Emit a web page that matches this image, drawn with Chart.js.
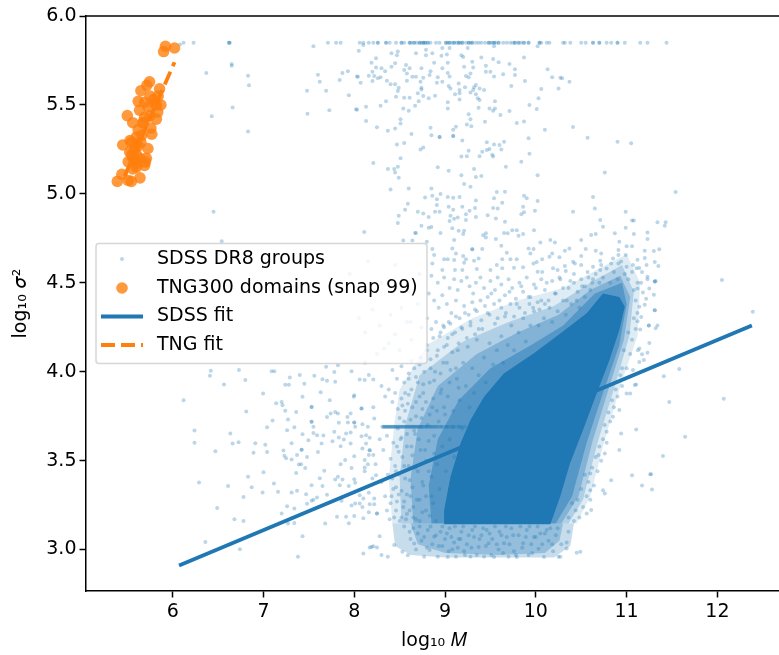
<!DOCTYPE html>
<html>
<head>
<meta charset="utf-8">
<title>SDSS vs TNG300</title>
<script src="https://cdn.jsdelivr.net/npm/chart.js@4"></script>
<style>
  html, body { margin: 0; padding: 0; background: #fff; overflow: hidden; width: 779px; height: 655px; }
  canvas { display: block; }
</style>
</head>
<body>
<canvas id="myChart" width="788" height="655"></canvas>
<script>
const xTicks = [6, 7, 8, 9, 10, 11, 12]
const yTicks = [3.0, 3.5, 4.0, 4.5, 5.0, 5.5, 6.0]

// log M of the groups piled up on the top row, log sigma^2 = 5.85
const topRowSigma = 5.85
const topRowMass = [6.12, 6.23, 6.62, 6.62, 6.63, 7.71, 7.80, 7.85, 8.06, 8.10, 8.16, 8.21, 8.26, 8.26, 8.35, 8.35, 8.39, 8.46, 8.52, 8.52, 8.55, 8.61, 8.61, 8.63, 8.66, 8.66, 8.69, 8.72, 8.72, 8.74, 8.76, 8.76, 8.78, 8.78, 8.81, 8.81, 8.84, 8.90, 8.94, 9.01, 9.01, 9.03, 9.05, 9.05, 9.08, 9.10, 9.10, 9.13, 9.15, 9.15, 9.17, 9.19, 9.19, 9.23, 9.26, 9.26, 9.28, 9.30, 9.30, 9.34, 9.37, 9.40, 9.44, 9.48, 9.48, 9.50, 9.52, 9.54, 9.54, 9.56, 9.59, 9.59, 9.64, 9.68, 9.72, 9.75, 9.77, 9.77, 9.81, 9.81, 9.84, 9.87, 9.87, 9.92, 9.92, 10.04, 10.04, 10.06, 10.12, 10.15, 10.30, 10.32, 10.38, 10.50, 10.55, 10.63, 10.63, 10.70, 10.70, 10.78, 10.83, 10.90, 10.90, 10.98, 11.15, 11.23, 11.44]

// the short streak at log sigma^2 = 3.69
const streakSigma = 3.69
const streakMass = [8.31, 8.32, 8.33, 8.34, 8.35, 8.36, 8.37, 8.38, 8.39, 8.40, 8.41, 8.42, 8.43, 8.44, 8.45, 8.46, 8.47, 8.48, 8.49, 8.50, 8.51, 8.52, 8.53, 8.54, 8.55, 8.56, 8.57, 8.58, 8.59, 8.60, 8.61, 8.62, 8.63, 8.64, 8.65, 8.66, 8.67, 8.68, 8.69, 8.70, 8.71, 8.72, 8.73, 8.74, 8.75, 8.76, 8.78, 8.79, 8.80, 8.81, 8.83, 8.84, 8.85, 8.87, 8.88, 8.90, 8.91, 8.93, 8.95, 8.96, 8.98, 9.01, 9.02, 9.04, 9.07, 9.09, 9.10, 9.14, 9.16, 9.18, 9.22]

const sparsePoints = [
  [6.08,5.84],[6.65,5.73],[6.65,5.72],[6.37,5.68],[6.83,5.664],[6.84,5.61],[6.66,5.486],[6.43,5.436],[6.83,5.35],[6.45,4.90],[6.54,4.734],
  [7.55,5.83],[7.60,5.67],[7.62,5.63],[7.48,5.58],[7.69,5.58],[7.87,5.68],[7.93,5.69],[7.84,5.64],[7.94,5.555],[7.485,5.45],[7.725,5.47],[8.03,5.473],[8.03,5.66],
  [8.05,5.805],[8.10,5.837],[8.41,5.79],[8.47,5.78],[8.48,5.80],[8.68,5.79],[8.79,5.81],[8.79,5.78],[8.86,5.79],[8.97,5.82],[9.05,5.82],[9.25,5.82],[9.54,5.83],[8.96,5.776],[9.02,5.784],[9.18,5.78],[9.20,5.77],[9.40,5.767],[9.53,5.758],[9.59,5.74],[9.87,5.767],[9.71,5.73],[9.77,5.70],[10.13,5.70],[10.02,5.83],
  [8.24,5.762],[8.19,5.737],[8.24,5.71],[8.30,5.706],[8.34,5.69],[8.41,5.715],[8.45,5.734],[8.57,5.725],[8.61,5.706],[8.55,5.696],[8.58,5.677],[8.74,5.706],[8.84,5.69],[8.88,5.737],[8.97,5.706],[9.03,5.737],[9.21,5.715],[9.30,5.743],[9.31,5.71],[9.45,5.72],[9.45,5.687],[9.50,5.687],[9.28,5.677],[9.03,5.68],[9.05,5.66],[9.23,5.663],[9.26,5.655],[9.54,5.66],[9.64,5.672],[9.77,5.668],
  [8.04,5.659],[8.16,5.664],[8.20,5.687],[8.22,5.662],[8.26,5.65],[8.29,5.655],[8.07,5.625],[8.20,5.634],[8.36,5.636],[8.40,5.616],[8.45,5.616],[8.49,5.597],[8.48,5.578],[8.58,5.636],[8.64,5.659],[8.68,5.659],[8.76,5.653],[8.73,5.63],[8.74,5.597],[8.74,5.587],[8.83,5.668],[8.92,5.655],[8.91,5.625],[8.97,5.63],[9.04,5.606],[9.06,5.593],[9.11,5.56],[9.15,5.62],[9.16,5.584],[9.16,5.565],[9.22,5.60],[9.32,5.60],[9.34,5.612],[9.28,5.57],[9.31,5.584],[9.38,5.593],[9.43,5.584],[9.34,5.56],[9.73,5.606],[9.88,5.634],[10.06,5.59],[10.18,5.655],[10.27,5.653],[10.29,5.65],[10.37,5.63],[10.25,5.593],[10.03,5.537],[9.93,5.50],[10.01,5.477],
  [8.02,5.475],[8.13,5.49],[8.29,5.495],[8.35,5.52],[8.46,5.546],[8.55,5.54],[8.61,5.54],[8.76,5.55],[8.82,5.537],[8.89,5.552],[8.70,5.565],[8.71,5.52],[8.67,5.495],[8.60,5.467],[8.54,5.48],[8.13,5.41],[8.25,5.374],[8.37,5.355],[8.45,5.368],[8.51,5.42],[8.51,5.396],[8.63,5.336],[8.47,5.278],[8.55,5.286],[8.73,5.25],[8.76,5.26],[8.21,5.173],[8.37,5.14],[8.44,5.14],[8.48,5.152],[8.45,5.12],[8.49,5.09],[8.51,5.20],[8.40,5.025],[8.60,5.03],
  [8.84,5.372],[8.85,5.33],[8.94,5.32],[8.94,5.32],[9.09,5.36],[9.12,5.377],[9.09,5.325],[9.09,5.325],[9.19,5.30],[9.03,5.515],[9.03,5.48],[9.16,5.53],[9.36,5.537],[9.38,5.527],[9.37,5.484],[9.49,5.48],[9.55,5.52],[9.55,5.48],[9.53,5.467],[9.61,5.443],[9.71,5.466],[9.26,5.447],[9.28,5.42],[9.24,5.39],[9.29,5.38],[9.44,5.406],[9.79,5.398],[9.87,5.407],[10.10,5.36],[10.41,5.376],[10.57,5.316],[10.90,5.293],[11.05,5.284],[9.92,5.312],[9.93,5.226],[9.65,5.293],[9.60,5.275],[9.54,5.278],[9.46,5.29],[9.49,5.252],[9.46,5.246],[9.41,5.237],[9.62,5.25],[9.26,5.243],[9.18,5.21],[9.24,5.212],[9.38,5.212],[9.52,5.22],[9.53,5.21],[9.84,5.18],[9.67,5.152],[8.92,5.15],[9.04,5.13],[9.18,5.105],[9.32,5.14],[9.34,5.095],[9.40,5.10],[10.02,5.105],[10.76,5.12],[9.21,5.055],[9.28,5.04],[8.85,5.03],[9.57,5.01],[9.66,5.012],[9.87,4.99],[9.90,4.975],[11.54,5.01],[10.63,4.982],[10.02,4.96],[9.34,4.963],[9.54,4.975],[8.78,4.98],[8.86,4.99],[8.91,4.97],[8.95,4.999],[9.03,4.982],[9.09,4.978],[9.16,4.982],
  [8.59,4.945],[8.56,4.91],[8.70,4.90],[8.76,4.89],[8.82,4.87],[8.91,4.937],[8.89,4.90],[8.94,4.90],[9.04,4.927],[9.09,4.91],[9.19,4.927],[9.27,4.905],[9.23,4.886],[9.33,4.92],[9.34,4.87],[9.47,4.88],[9.53,4.92],[9.58,4.917],[9.63,4.95],[9.86,4.927],[9.87,4.897],[9.84,4.886],[9.99,4.905],[10.41,4.90],[10.65,4.917],[10.99,4.90],[8.49,4.877],[8.48,4.836],[8.11,4.785],[9.06,4.877],[9.10,4.86],[9.14,4.867],[9.05,4.847],[9.23,4.853],[9.56,4.862],[9.66,4.843],[10.71,4.853],[11.06,4.85],[11.08,4.85],[11.34,4.84],[11.43,4.84],[11.42,4.82],[10.74,4.815],[10.99,4.81],[8.74,4.82],[8.82,4.81],[8.85,4.813],[9.08,4.806],[8.67,4.78],[8.68,4.78],[8.95,4.78],[9.15,4.793],[9.21,4.793],[9.20,4.774],[9.42,4.767],[9.45,4.778],[9.45,4.755],[9.56,4.746],[9.65,4.78],[9.69,4.778],[9.74,4.796],[9.79,4.796],[9.81,4.765],[9.86,4.774],[9.98,4.796],[10.61,4.768],[10.66,4.774],[10.87,4.778],[11.08,4.774],[11.23,4.783],[11.23,4.746],[10.50,4.74],[10.21,4.727],[10.16,4.74],[10.92,4.73],[10.05,4.727],[9.10,4.74],[8.80,4.73],[8.64,4.738],[8.54,4.738],
  [6.12,3.84],[6.24,3.67],[6.24,3.60],[6.29,3.377],[6.36,3.043],[6.41,3.977],[6.42,4.005],[6.565,3.928],[6.47,3.553],[6.49,3.234],[6.68,3.17],[6.78,3.161],[6.74,3.002],[6.61,3.358],[6.635,3.653],[6.66,3.596],[6.725,3.604],[6.73,4.009],[6.80,3.954],[6.81,3.776],[6.83,3.409],[6.87,3.351],[6.78,3.296],[6.91,3.598],[6.89,3.544],[6.996,3.877],[7.02,3.59],[7.04,3.548],[7.04,3.688],[7.10,3.726],[7.0,3.435],[6.99,3.321],[7.115,3.371],[7.16,3.325],[7.09,4.003],[7.12,4.003],[7.14,3.823],[7.20,3.83],[7.21,3.812],[7.24,3.78],[7.36,3.773],[7.27,3.731],[7.26,3.671],[7.34,3.688],[7.31,3.598],[7.22,3.557],[7.23,3.527],[7.25,3.514],[7.31,3.506],[7.37,3.531],[7.42,3.561],[7.42,3.561],[7.48,3.521],[7.39,3.478],[7.415,3.48],[7.46,3.459],[7.36,3.431],[7.31,3.321],[7.37,3.33],[7.20,3.203],[7.26,3.244],[7.34,3.231],[7.48,3.257],[7.47,3.311],[7.53,3.362],[7.53,3.274],[7.59,3.293],[7.55,3.28],[7.27,3.146],[7.34,3.15],[7.43,3.075],[7.38,2.959],[7.24,3.926],[7.28,3.926],[7.29,3.968],[7.40,3.981],[7.45,3.932],[7.56,3.977],[7.65,3.958],[7.70,3.949],[7.79,3.943],[7.78,3.998],[7.69,4.028],[7.82,4.037],[7.97,4.003],[8.06,3.956],[8.115,3.953],[8.16,3.981],[8.21,3.956],[7.43,3.859],[7.53,3.801],[7.53,3.801],[7.63,3.885],[7.73,3.84],[7.53,3.718],[7.53,3.718],[7.43,3.649],[7.495,3.615],[7.55,3.69],[7.55,3.656],[7.59,3.643],[7.66,3.641],[7.64,3.596],[7.60,3.548],[7.70,3.746],[7.74,3.765],[7.79,3.773],[7.82,3.765],[7.83,3.713],[7.78,3.662],[7.76,3.609],[7.83,3.63],[7.885,3.619],[7.85,3.581],[7.91,3.653],[7.96,3.658],[7.96,3.596],[7.93,3.714],[8.0,3.714],[8.0,3.714],[7.925,3.746],[7.96,3.765],[8.01,3.69],[8.0,3.868],[8.08,3.793],[8.08,3.793],[7.995,3.859],[8.09,3.705],[8.08,3.637],[8.13,3.643],[8.15,3.69],[8.17,3.628],[8.13,3.596],[8.22,3.737],[8.21,3.80],[8.09,3.568],[8.17,3.559],[8.17,3.559],[8.16,3.531],[8.21,3.531],[8.115,3.503],[8.235,3.48],[8.15,3.48],[8.0,3.525],[7.90,3.503],[7.85,3.48],[7.97,3.459],[8.115,3.461],[8.115,3.441],[7.67,3.443],[7.62,3.401],[7.65,3.358],[7.79,3.394],[7.82,3.409],[7.87,3.394],[7.84,3.362],[7.94,3.358],[8.0,3.396],[8.01,3.375],[8.20,3.40],[8.24,3.418],[7.70,3.308],[7.86,3.274],[7.68,3.146],[7.81,3.184],[7.91,3.184],[7.94,3.148],[8.0,3.188],[8.10,3.176],[8.16,3.21],[8.25,3.203],[8.25,3.203],[7.97,3.248],[8.01,3.259],[8.06,3.259],[8.09,3.24],[8.17,3.255],[8.22,3.255],[8.16,3.32],[8.22,3.287],[8.06,3.306],[8.10,3.287],[8.10,2.978],[8.17,3.011],[8.21,3.019],[8.25,3.011],
  [11.20,4.68],[11.31,4.617],[11.35,4.594],[11.22,4.60],[11.2,4.64],[11.12,4.63],[11.14,4.583],[11.17,4.56],[11.23,4.52],[11.31,4.507],[11.31,4.507],[12.05,4.516],[11.12,4.50],[11.16,4.50],[11.25,4.468],[11.30,4.433],[11.12,4.468],[11.18,4.445],[11.215,4.41],[11.31,4.346],[11.31,4.346],[11.2,4.376],[11.14,4.365],[11.16,4.307],[11.12,4.284],[11.245,4.26],[11.245,4.26],[11.34,4.26],[11.32,4.245],[11.15,4.238],[12.39,4.337],[11.25,4.162],[11.14,4.13],[11.23,4.107],[11.17,4.098],[11.14,4.054],[11.19,4.066],[11.58,4.015],[11.41,3.974],[11.106,3.928],[11.47,3.83],[12.07,3.848],[11.106,3.675],[11.645,3.634],[11.40,3.526],[11.26,3.423],[11.17,3.36],[11.28,3.338],
  [10.92,3.56],[11.27,3.424],[11.06,3.418],[10.83,3.39],[10.74,3.334],[10.76,3.315],[10.61,3.222],[10.49,2.987],[10.45,2.982],[10.34,3.04],[10.34,3.006],[10.27,2.96],[11.09,3.925],[11.04,3.878],[10.92,3.784],[10.94,3.653],[10.85,3.747],[10.78,3.662],[10.76,3.54],[10.69,3.531],[10.60,3.428],[10.60,3.334],[10.56,3.203],[11.0,3.878],[11.125,4.12],[11.07,4.01],[10.98,3.96],[10.95,4.02],[11.03,3.97]
]

// groups in the cloud around the dense core, less exact than the ones above
const cloudPoints = [
  [8.86,4.69],[8.88,4.656],[9.30,4.688],[9.30,4.688],[9.08,4.693],[9.41,4.69],[9.62,4.708],[9.68,4.669],[9.92,4.693],[9.975,4.69],[9.94,4.665],[10.18,4.665],[10.15,4.647],[10.32,4.68],[10.37,4.693],[10.55,4.69],[10.66,4.68],[10.72,4.665],[10.91,4.684],[11.0,4.706],[11.06,4.706],[11.3,4.678],[11.36,4.688],[8.99,4.632],[9.03,4.632],[9.10,4.628],[9.12,4.665],[9.20,4.65],[9.23,4.632],[9.21,4.613],[9.32,4.624],[9.37,4.637],[9.63,4.632],[9.72,4.632],[9.79,4.632],[9.975,4.609],[10.01,4.617],[10.07,4.632],[10.26,4.643],[10.41,4.618],[10.50,4.65],[10.71,4.624],[10.85,4.637],[10.91,4.656],[10.99,4.656],[11.07,4.6],[8.86,4.609],[8.97,4.572],[9.11,4.572],[9.19,4.572],[9.35,4.577],[9.50,4.572],[9.57,4.60],[9.63,4.581],[9.76,4.585],[9.86,4.587],[10.02,4.562],[10.07,4.56],[10.19,4.581],[10.24,4.572],[10.32,4.594],[10.33,4.566],[10.43,4.609],[10.50,4.60],[10.63,4.59],[10.72,4.60],[10.71,4.572],[10.83,4.609],[10.91,4.609],[11.0,4.59],[11.11,4.581],[11.23,4.534],[11.32,4.51],
  [8.85,4.54],[8.92,4.50],[8.99,4.53],[9.05,4.47],[9.10,4.52],[9.14,4.46],[9.18,4.51],[9.24,4.53],[9.27,4.48],[9.31,4.44],[9.34,4.50],[9.39,4.53],[9.43,4.47],[9.47,4.42],[9.50,4.51],[9.55,4.46],[9.58,4.53],[9.62,4.49],[9.66,4.43],[9.70,4.52],[9.74,4.47],[9.78,4.41],[9.82,4.50],[9.86,4.45],[9.90,4.53],[9.94,4.42],[9.98,4.49],[10.02,4.39],[10.06,4.52],[10.10,4.46],[10.14,4.40],[10.18,4.51],[10.22,4.44],[10.26,4.53],[10.30,4.47],[10.34,4.40],[10.38,4.51],[10.42,4.55],[10.46,4.45],[10.50,4.52],[10.54,4.48],[10.58,4.53],[10.62,4.50],
  [8.82,4.44],[8.88,4.40],[8.93,4.36],[8.97,4.43],[9.02,4.38],[9.07,4.33],[9.12,4.40],[9.16,4.30],[9.21,4.37],[9.26,4.32],[9.30,4.39],[9.35,4.34],[9.40,4.29],[9.44,4.37],[9.49,4.32],[9.54,4.38],[9.58,4.30],[9.62,4.36],[9.67,4.33],[9.72,4.38],[9.76,4.31],[9.82,4.36],[9.88,4.33],[9.93,4.38],[9.98,4.34],[10.04,4.35],[10.10,4.38],
  [8.80,4.30],[8.85,4.24],[8.90,4.28],[8.94,4.20],[8.98,4.26],[9.03,4.19],[9.06,4.27],[9.11,4.22],[9.15,4.16],[9.19,4.24],[9.24,4.19],[9.28,4.26],[9.33,4.21],[9.37,4.24],
  [8.42,4.01],[8.47,3.96],[8.52,4.03],[8.55,3.94],[8.60,3.99],[8.63,4.06],[8.68,3.97],[8.72,4.04],[8.76,3.93],[8.80,4.12],[8.84,4.02],[8.88,3.95],[8.91,4.09],[8.95,3.99],[8.99,4.14],[9.02,4.05],[9.05,3.94],[9.08,4.11],[9.12,4.02],[9.15,3.91],
  [8.30,3.92],[8.34,3.86],[8.38,3.90],[8.42,3.83],[8.45,3.88],[8.48,3.79],[8.52,3.85],[8.56,3.78],[8.60,3.87],[8.64,3.80],[8.68,3.75],[8.72,3.86],[8.75,3.79],[8.79,3.83],[8.83,3.76],[8.87,3.85],[8.91,3.78],[8.95,3.88],[8.99,3.80],
  [8.28,3.62],[8.32,3.56],[8.36,3.64],[8.40,3.51],[8.43,3.60],[8.46,3.44],[8.49,3.55],[8.52,3.63],[8.55,3.47],[8.58,3.58],[8.61,3.39],[8.64,3.53],[8.67,3.65],[8.70,3.44],[8.73,3.56],[8.76,3.36],[8.79,3.50],[8.82,3.61],[8.85,3.41],[8.88,3.54],
  [8.30,3.38],[8.34,3.30],[8.37,3.42],[8.40,3.26],[8.43,3.34],[8.46,3.22],[8.49,3.31],[8.52,3.18],[8.55,3.27],[8.58,3.20],[8.62,3.30],[8.65,3.24],[8.68,3.17],[8.72,3.28],[8.75,3.21],[8.79,3.30],[8.83,3.19],[8.87,3.26],
  [8.19,3.015],[8.28,3.075],[8.30,2.97],[8.37,2.96],[8.44,3.025],[8.53,2.987],[8.59,2.968],[8.66,3.034],[8.77,2.96],[8.83,2.997],[8.88,3.072],[8.92,2.96],[8.97,3.02],[9.03,2.958],[9.08,3.0],[9.12,2.96],[9.15,3.06],[9.21,2.99],[9.28,2.96],[9.32,3.07],[9.37,3.015],[9.43,2.96],[9.48,3.035],[9.54,2.958],[9.59,3.0],[9.65,3.035],[9.70,2.96],[9.76,2.99],[9.79,2.958],[9.86,3.035],[9.92,2.97],[9.98,3.07],[10.03,3.005],[10.09,2.958],[10.14,3.05],[10.19,2.99],[10.25,2.96],
  [8.61,3.10],[8.70,3.09],[8.74,3.05],[8.81,3.11],[8.86,3.03],[8.95,3.10],[9.0,3.06],[9.05,3.12],[9.10,3.04],[9.18,3.10],[9.24,3.03],[9.30,3.11],[9.40,3.08],[9.46,3.11],[9.52,3.06],[9.60,3.10],[9.68,3.07],[9.73,3.12],[9.81,3.08],[9.90,3.11],[9.95,3.03],[10.05,3.09],[10.12,3.11],[10.22,3.08],[10.28,3.03],[10.36,3.10],
  [8.05,4.30],[8.12,4.22],[8.20,4.35],[8.28,4.26],[8.33,4.13],[8.40,4.32],[8.45,4.21],[8.52,4.36],[8.58,4.28],[8.63,4.18],[8.70,4.38],[8.74,4.25],[8.12,4.05],[8.25,4.10],[8.38,4.16],[8.50,4.12],[8.62,4.28],[7.80,4.45],[7.95,4.55],[8.15,4.62],[8.30,4.50],[8.45,4.60],[8.60,4.45],[8.72,4.55]
]

// second pass over the cloud, mostly along the edges of the outlines below
const edgePoints = [
  [8.36,3.22],[8.39,3.17],[8.41,3.30],[8.42,3.40],[8.44,3.18],[8.45,3.47],[8.46,3.35],[8.47,3.27],[8.47,3.58],[8.48,3.68],[8.49,3.42],[8.50,3.74],[8.50,3.16],[8.51,3.62],[8.52,3.33],[8.53,3.81],[8.53,3.52],[8.54,3.24],[8.55,3.72],[8.56,3.88],[8.56,3.40],[8.57,3.17],[8.58,3.65],[8.58,3.31],[8.59,3.82],[8.60,3.47],[8.60,3.96],[8.61,3.22],[8.62,3.73],[8.63,3.58],[8.63,3.90],[8.64,3.35],[8.65,3.18],[8.66,3.67],[8.66,4.02],[8.67,3.46],[8.68,3.83],[8.69,3.28],[8.70,3.94],[8.71,3.62],[8.72,3.16],[8.73,4.08],[8.74,3.74],[8.75,3.38],[8.76,3.88],[8.77,4.00],[8.78,3.56],[8.79,3.22],[8.80,4.15],[8.81,3.70],[8.82,3.44],[8.83,3.94],[8.84,4.07],[8.85,3.30],[8.86,3.80],[8.87,4.19],[8.88,3.64],[8.89,4.00],[8.90,3.16],[8.91,3.48],[8.92,4.12],[8.93,3.72],[8.94,3.34],[8.95,4.22],[8.96,3.90],[8.97,3.58],[8.98,4.05],[8.99,4.25],[9.00,3.76],[9.01,3.44],[9.02,4.15],[9.03,3.86],[9.04,4.28],[9.05,3.62],[9.06,4.01],[9.08,4.21],[9.09,3.78],[9.10,3.52],[9.12,4.31],[9.13,3.96],[9.14,4.12],[9.16,3.84],[9.18,4.25],[9.19,3.68],[9.20,4.05],[9.22,4.33],[9.23,3.92],[9.25,4.14],[9.27,3.80],[9.28,4.28],[9.30,4.02],[9.32,3.88],[9.33,4.35],[9.35,4.18],[9.37,3.98],[9.39,4.40],[9.41,4.24],[9.43,4.08],[9.45,3.94],[9.47,4.33],[9.49,4.16],[9.51,4.44],[9.53,4.04],[9.55,4.27],[9.57,4.12],[9.60,4.40],[9.62,4.20],[9.64,4.05],[9.66,4.31],[9.69,4.15],[9.71,4.45],[9.73,4.26],[9.76,4.12],[9.79,4.38],[9.81,4.22],[9.84,4.48],[9.86,4.30],[9.89,4.17],[9.92,4.42],[9.94,4.26],[9.97,4.36],[10.00,4.47],[10.03,4.26],[10.06,4.40],[10.09,4.30],[10.12,4.50],[10.15,4.36],[10.18,4.28],[10.21,4.44],[10.24,4.34],[10.27,4.52],[10.30,4.40],[10.33,4.32],[10.36,4.47],[10.39,4.38],[10.42,4.50],[10.45,4.40],[10.48,4.36],[10.51,4.48],[10.54,4.42],[10.57,4.56],[10.60,4.46],[10.63,4.52],[10.66,4.55],[10.70,4.50],[10.74,4.53],[10.78,4.58],[10.82,4.50],[10.86,4.56],[10.90,4.52],[10.94,4.62],[10.98,4.55],[11.02,4.52],[11.06,4.56],[11.08,4.46],[11.10,4.40],[11.12,4.33],[11.10,4.24],[11.08,4.30],[11.06,4.18],[11.04,4.10],[11.02,4.22],[11.00,4.02],[10.97,4.12],[10.95,3.92],[10.93,3.98],[10.90,3.86],[10.88,3.90],[10.86,3.80],[10.84,3.84],[10.82,3.72],[10.80,3.77],[10.78,3.60],[10.76,3.70],[10.74,3.62],[10.72,3.50],[10.70,3.58],[10.68,3.44],[10.66,3.52],[10.64,3.36],[10.62,3.46],[10.60,3.28],[10.58,3.38],[10.56,3.30],[10.54,3.42],[10.52,3.24],[10.50,3.34],[10.48,3.18],[10.46,3.28],[10.44,3.22],[10.42,3.16],[10.40,3.26],[10.36,3.18],
  [8.55,3.13],[8.62,3.06],[8.65,3.12],[8.68,3.00],[8.72,3.13],[8.77,3.07],[8.80,3.01],[8.84,3.13],[8.90,3.08],[8.93,3.02],[8.97,3.13],[9.02,3.09],[9.04,2.99],[9.07,3.07],[9.11,3.13],[9.14,3.01],[9.17,3.06],[9.20,3.13],[9.22,2.97],[9.26,3.08],[9.29,3.01],[9.33,3.13],[9.35,2.97],[9.38,3.06],[9.42,3.12],[9.45,3.02],[9.49,3.09],[9.51,2.97],[9.55,3.13],[9.57,3.03],[9.62,3.08],[9.64,2.98],[9.67,3.13],[9.71,3.03],[9.75,3.08],[9.78,2.97],[9.83,3.13],[9.85,3.01],[9.89,3.07],[9.93,3.13],[9.96,2.98],[10.00,3.07],[10.02,3.13],[10.07,3.03],[10.10,3.09],[10.16,3.12],[10.18,3.03],[10.24,3.12]
]

// outlines of the places where the dots merge, too many to read one by one
const outerOutlineMass = [8.42, 8.38, 8.44, 8.50, 8.80, 9.30, 9.80, 10.30, 10.70, 11.00, 11.15, 11.12, 10.95, 10.75, 10.60, 10.45]
const outerOutlineSigma = [3.147, 3.40, 3.70, 3.90, 4.15, 4.30, 4.40, 4.47, 4.58, 4.66, 4.50, 4.20, 3.95, 3.60, 3.30, 3.147]
const cloudOutlineMass = [8.52, 8.50, 8.56, 8.72, 9.20, 9.70, 10.20, 10.60, 10.95, 11.08, 11.03, 10.87, 10.68, 10.52, 10.36]
const cloudOutlineSigma = [3.147, 3.40, 3.70, 3.98, 4.17, 4.28, 4.37, 4.50, 4.60, 4.45, 4.20, 3.92, 3.60, 3.28, 3.147]
const midOutlineMass = [8.65, 8.62, 8.70, 8.92, 9.35, 9.80, 10.25, 10.60, 10.93, 11.04, 10.97, 10.80, 10.62, 10.47, 10.28]
const midOutlineSigma = [3.147, 3.40, 3.68, 3.92, 4.10, 4.22, 4.32, 4.46, 4.54, 4.42, 4.18, 3.90, 3.60, 3.30, 3.147]
const innerOutlineMass = [8.85, 8.82, 8.92, 9.15, 9.50, 9.95, 10.30, 10.65, 10.95, 11.00, 10.92, 10.74, 10.56, 10.40, 10.22]
const innerOutlineSigma = [3.147, 3.36, 3.62, 3.84, 4.02, 4.15, 4.26, 4.44, 4.50, 4.38, 4.15, 3.88, 3.60, 3.30, 3.147]
const bandOuterMass = [8.42, 8.45, 8.62, 9.0, 9.6, 10.2, 10.38, 10.42]
const bandOuterSigma = [3.147, 3.02, 2.97, 2.955, 2.955, 2.955, 3.02, 3.147]
const bandInnerMass = [8.62, 8.70, 9.0, 9.6, 10.1, 10.26, 10.30]
const bandInnerSigma = [3.147, 3.03, 2.98, 2.97, 2.98, 3.05, 3.147]
const coreOutlineMass = [8.99, 10.16, 10.27, 10.376, 10.52, 10.67, 10.81, 10.92, 10.98, 10.92, 10.74, 10.56, 10.27, 9.975, 9.647, 9.43, 9.28, 9.17, 9.06, 8.99]
const coreOutlineSigma = [3.143, 3.143, 3.30, 3.484, 3.672, 3.878, 4.065, 4.234, 4.365, 4.42, 4.44, 4.328, 4.215, 4.103, 3.99, 3.859, 3.728, 3.597, 3.409, 3.222]

const tngMass = [5.92, 6.02, 5.90, 5.745, 5.715, 5.65, 5.855, 5.62, 5.69, 5.75, 5.84, 5.87, 5.80, 5.635, 5.835, 5.50, 5.56, 5.69, 5.67, 5.82, 5.62, 5.76, 5.77, 5.60, 5.45, 5.545, 5.65, 5.727, 5.526, 5.60, 5.51, 5.56, 5.64, 5.71, 5.69, 5.60, 5.56, 5.44, 5.39, 5.544, 5.51, 5.64, 5.58, 5.62, 5.70, 5.53, 5.68, 5.58, 5.75, 5.82, 5.79, 5.66, 5.60, 5.55, 5.60, 5.73]
const tngSigma = [5.83, 5.82, 5.80, 5.63, 5.61, 5.58, 5.59, 5.52, 5.515, 5.55, 5.55, 5.50, 5.51, 5.47, 5.46, 5.44, 5.40, 5.43, 5.40, 5.42, 5.36, 5.37, 5.335, 5.32, 5.275, 5.29, 5.29, 5.255, 5.235, 5.22, 5.18, 5.20, 5.20, 5.20, 5.16, 5.17, 5.14, 5.11, 5.07, 5.07, 5.075, 5.09, 5.25, 5.27, 5.18, 5.30, 5.40, 5.19, 5.44, 5.50, 5.53, 5.33, 5.15, 5.22, 5.28, 5.49]

const sdssFitMass = [6.07, 12.38]
const sdssFitSigma = [2.91, 4.26]
const tngFitMass = [5.47, 6.02]
const tngFitSigma = [5.10, 5.74]

const legendLabels = ['SDSS DR8 groups', 'TNG300 domains (snap 99)', 'SDSS fit', 'TNG fit']

const blue = '#1f77b4'
const orange = '#ff7f0e'
const fontName = '"DejaVu Sans", sans-serif'
const fontSize = 19

function zipPoints(xs, ys) {
  return xs.map(function (value, index) {
    return { x: value, y: ys[index] }
  })
}

function outline(xs, ys, color, order) {
  return {
    data: zipPoints(xs, ys),
    showLine: true,
    fill: 'shape',
    backgroundColor: color,
    borderWidth: 0,
    pointRadius: 0,
    order: order
  }
}

const sdssScatter = []
  .concat(topRowMass.map(m => ({ x: m, y: topRowSigma })))
  .concat(streakMass.map(m => ({ x: m, y: streakSigma })))
  .concat(sparsePoints.map(p => ({ x: p[0], y: p[1] })))
  .concat(cloudPoints.map(p => ({ x: p[0], y: p[1] })))
  .concat(edgePoints.map(p => ({ x: p[0], y: p[1] })))

// top spine and the legend box, which sits inside the axes here
const framePlugin = {
  id: 'frame',
  afterDraw(chart) {
    const ctx = chart.ctx
    const area = chart.chartArea
    ctx.save()
    ctx.strokeStyle = '#000'
    ctx.lineWidth = 1.5
    ctx.beginPath()
    ctx.moveTo(area.left, area.top)
    ctx.lineTo(area.right, area.top)
    ctx.stroke()

    ctx.fillStyle = 'rgba(255,255,255,0.8)'
    ctx.strokeStyle = 'rgba(204,204,204,0.8)'
    ctx.beginPath()
    ctx.roundRect(96, 243.5, 331, 120, 3)
    ctx.fill()
    ctx.stroke()

    const rows = [259, 288, 316.5, 345]
    ctx.fillStyle = 'rgba(31,119,180,0.3)'
    ctx.beginPath()
    ctx.arc(122, rows[0], 2, 0, Math.PI * 2)
    ctx.fill()
    ctx.fillStyle = 'rgba(255,127,14,0.8)'
    ctx.beginPath()
    ctx.arc(122, rows[1], 5.8, 0, Math.PI * 2)
    ctx.fill()
    ctx.lineWidth = 3.8
    ctx.strokeStyle = blue
    ctx.beginPath()
    ctx.moveTo(101, rows[2])
    ctx.lineTo(143, rows[2])
    ctx.stroke()
    ctx.strokeStyle = orange
    ctx.setLineDash([14, 6])
    ctx.beginPath()
    ctx.moveTo(101, rows[3])
    ctx.lineTo(143, rows[3])
    ctx.stroke()
    ctx.setLineDash([])

    ctx.fillStyle = '#000'
    ctx.font = fontSize + 'px ' + fontName
    ctx.textBaseline = 'middle'
    legendLabels.forEach(function (label, i) {
      ctx.fillText(label, 157, rows[i])
    })
    ctx.restore()
  }
}

const config = {
  type: 'scatter',
  data: {
    datasets: [
      outline(outerOutlineMass, outerOutlineSigma, 'rgba(31,119,180,0.14)', 13),
      outline(cloudOutlineMass, cloudOutlineSigma, 'rgba(31,119,180,0.24)', 12),
      outline(midOutlineMass, midOutlineSigma, 'rgba(31,119,180,0.32)', 11),
      outline(innerOutlineMass, innerOutlineSigma, 'rgba(31,119,180,0.45)', 10),
      outline(bandOuterMass, bandOuterSigma, 'rgba(31,119,180,0.25)', 13),
      outline(bandInnerMass, bandInnerSigma, 'rgba(31,119,180,0.30)', 12),
      {
        label: legendLabels[0],
        data: sdssScatter,
        backgroundColor: 'rgba(31,119,180,0.3)',
        borderWidth: 0,
        pointRadius: 2,
        order: 8
      },
      outline(coreOutlineMass, coreOutlineSigma, blue, 7),
      {
        label: legendLabels[2],
        data: zipPoints(sdssFitMass, sdssFitSigma),
        showLine: true,
        borderColor: blue,
        borderWidth: 3.8,
        pointRadius: 0,
        order: 6
      },
      {
        label: legendLabels[1],
        data: zipPoints(tngMass, tngSigma),
        backgroundColor: 'rgba(255,127,14,0.8)',
        borderWidth: 0,
        pointRadius: 5.8,
        order: 5
      },
      {
        label: legendLabels[3],
        data: zipPoints(tngFitMass, tngFitSigma),
        showLine: true,
        borderColor: orange,
        borderWidth: 3.8,
        borderDash: [14, 6],
        pointRadius: 0,
        order: 4
      }
    ]
  },
  options: {
    responsive: false,
    animation: false,
    events: [],
    layout: { padding: { top: 16, left: 0, right: 0, bottom: 0 } },
    plugins: { legend: { display: false }, tooltip: { enabled: false } },
    scales: {
      x: {
        type: 'linear',
        min: 5.045,
        max: 12.714,
        afterFit(scale) { scale.height = 64 },
        afterBuildTicks(scale) { scale.ticks = xTicks.map(v => ({ value: v })) },
        border: { color: '#000', width: 1.5 },
        grid: { drawOnChartArea: false, tickLength: 6.5, tickColor: '#000', tickWidth: 1.5 },
        ticks: { color: '#000', font: { family: fontName, size: fontSize }, padding: 3, maxRotation: 0, autoSkip: false },
        title: { display: true, text: 'log₁₀ 𝑀', color: '#000', font: { family: fontName, size: fontSize }, padding: { top: 0, bottom: 3 } }
      },
      y: {
        type: 'linear',
        min: 2.767,
        max: 6.0,
        afterFit(scale) { scale.width = 86 },
        afterBuildTicks(scale) { scale.ticks = yTicks.map(v => ({ value: v })) },
        border: { color: '#000', width: 1.5 },
        grid: { drawOnChartArea: false, tickLength: 6.5, tickColor: '#000', tickWidth: 1.5 },
        ticks: { color: '#000', font: { family: fontName, size: fontSize }, padding: 3, autoSkip: false, callback: v => v.toFixed(1) },
        title: { display: true, text: 'log₁₀ 𝜎²', color: '#000', font: { family: fontName, size: fontSize }, padding: { top: 10, bottom: 0 } }
      }
    }
  },
  plugins: [framePlugin]
}

const myChart = new Chart(document.getElementById('myChart'), config)
</script>
</body>
</html>
